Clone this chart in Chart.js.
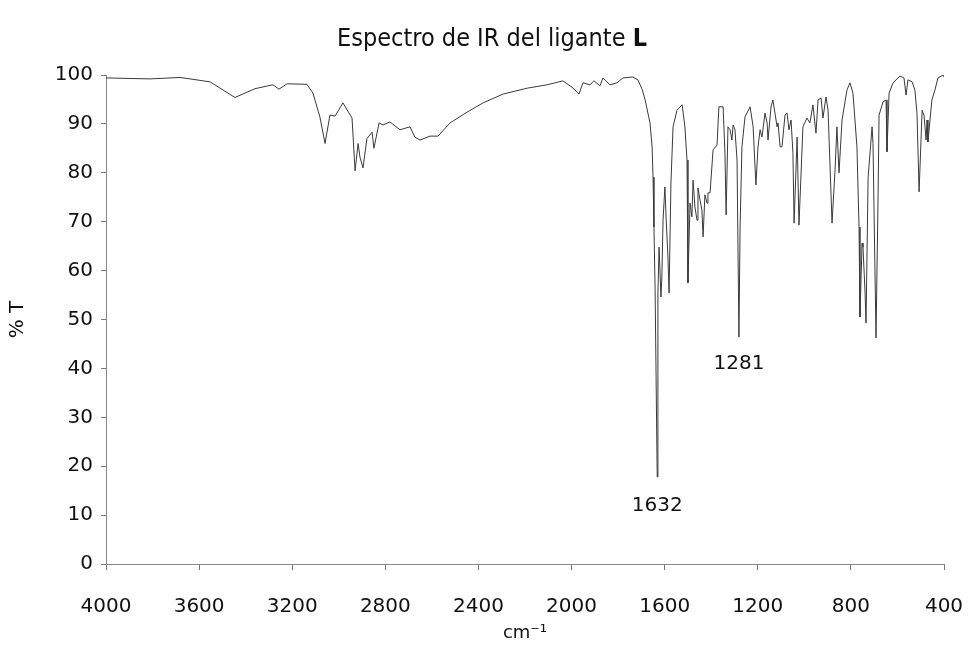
<!DOCTYPE html>
<html>
<head>
<meta charset="utf-8">
<title>Espectro de IR del ligante L</title>
<script src="https://cdn.jsdelivr.net/npm/chart.js@4.4.0/dist/chart.umd.min.js"></script>
<style>
    html, body { margin: 0; padding: 0; background: #fff; }
    #wrap { width: 969px; height: 649px; }
</style>
</head>
<body>
<div id="wrap"><canvas id="irChart" width="969" height="649"></canvas></div>
<script>
// Spectrum (wavenumber in cm-1, transmittance in %)
const wavenumbers = [
    4000, 3811, 3682, 3553, 3446, 3360, 3283, 3257, 3222, 3137, 3111, 3081, 3059, 3038, 3016,
    2982, 2943, 2930, 2917, 2909, 2896, 2879, 2857, 2849, 2827, 2810, 2780, 2737, 2694, 2673,
    2651, 2608, 2574, 2522, 2449, 2380, 2294, 2191, 2105, 2037, 1998, 1968, 1951, 1921, 1904,
    1878, 1865, 1835, 1805, 1779, 1736, 1715, 1697, 1684, 1663, 1654, 1650, 1646, 1641, 1632,
    1629, 1624, 1616, 1612, 1607, 1599, 1594, 1586, 1581, 1573, 1564, 1547, 1525, 1513, 1504,
    1500, 1491, 1483, 1478, 1470, 1461, 1457, 1448, 1440, 1435, 1427, 1418, 1414, 1405, 1392,
    1375, 1367, 1349, 1341, 1336, 1328, 1319, 1311, 1306, 1298, 1289, 1281, 1276, 1268, 1255,
    1233, 1220, 1208, 1199, 1190, 1182, 1169, 1160, 1156, 1143, 1135, 1117, 1113, 1104, 1096,
    1083, 1074, 1066, 1057, 1049, 1044, 1031, 1023, 1006, 989, 976, 963, 950, 941, 928,
    920, 907, 898, 881, 868, 860, 851, 838, 817, 804, 791, 774, 765, 761, 752,
    748, 739, 735, 726, 709, 705, 692, 683, 679, 662, 649, 645, 636, 619, 589,
    572, 563, 555, 537, 525, 516, 507, 494, 486, 477, 473, 469, 452, 439, 426,
    404, 400
];
const transmittance = [
    99.4, 99.2, 99.5, 98.6, 95.4, 97.2, 98.0, 97.1, 98.2, 98.1, 96.3, 91.4, 86.0, 91.8, 91.6,
    94.3, 91.2, 80.4, 86.0, 83.2, 81.0, 87.0, 88.3, 85.0, 90.2, 89.8, 90.4, 88.8, 89.4, 87.3,
    86.7, 87.5, 87.5, 90.2, 92.4, 94.3, 96.1, 97.3, 98.0, 98.8, 97.5, 96.1, 98.4, 98.0, 98.8,
    97.8, 99.4, 98.0, 98.4, 99.4, 99.6, 99.0, 97.1, 94.9, 90.2, 85.3, 79.1, 68.9, 56.0, 17.8,
    55.4, 64.8, 54.6, 58.7, 70.3, 77.1, 71.0, 62.8, 55.4, 77.9, 89.4, 92.8, 93.9, 89.4, 82.6,
    57.5, 73.8, 71.0, 78.5, 73.0, 70.3, 76.9, 74.4, 72.4, 66.9, 75.5, 73.8, 75.9, 75.9, 84.7,
    85.7, 93.5, 93.5, 84.0, 71.4, 89.4, 88.8, 86.7, 89.8, 88.8, 82.6, 46.4, 68.9, 85.3, 91.4,
    93.5, 89.4, 77.5, 85.3, 88.8, 87.3, 92.2, 90.2, 86.7, 93.5, 94.9, 89.4, 90.2, 85.3, 85.3,
    91.8, 92.2, 88.8, 90.8, 84.0, 69.7, 87.3, 69.3, 89.4, 91.2, 90.2, 93.9, 88.1, 94.9, 95.3,
    91.2, 95.5, 92.8, 69.7, 80.6, 89.4, 80.0, 90.8, 96.9, 98.4, 96.3, 85.3, 68.9, 50.5, 65.6,
    64.8, 55.4, 49.3, 79.1, 89.4, 86.0, 46.2, 75.9, 91.8, 94.5, 94.9, 84.3, 96.3, 98.4, 99.8,
    99.4, 95.9, 99.0, 98.6, 96.9, 92.2, 76.1, 92.8, 91.8, 86.7, 90.8, 86.3, 94.9, 96.9, 99.4,
    100.0, 99.6
];
const xTicks = [4000, 3600, 3200, 2800, 2400, 2000, 1600, 1200, 800, 400];
const yTicks = [0, 10, 20, 30, 40, 50, 60, 70, 80, 90, 100];
const peakLabels = ['1632', '1281'];
const peakPositions = [1632, 1281];
const peakLabelLevels = [12, 41];

const points = wavenumbers.map((w, i) => ({ x: w, y: transmittance[i] }));

// Title with bold "L" and the peak labels, drawn on the canvas
const textPlugin = {
    id: 'irText',
    afterDraw(chart) {
        const ctx = chart.ctx;
        const xs = chart.scales.x;
        const ys = chart.scales.y;
        ctx.save();
        ctx.fillStyle = '#111';
        ctx.textBaseline = 'middle';

        const part1 = 'Espectro de IR del ligante ';
        const part2 = 'L';
        const normalFont = '25px "DejaVu Sans Condensed", "DejaVu Sans", sans-serif';
        const boldFont = 'bold 25px "DejaVu Sans Condensed", "DejaVu Sans", sans-serif';
        ctx.font = normalFont;
        const w1 = ctx.measureText(part1).width;
        ctx.font = boldFont;
        const w2 = ctx.measureText(part2).width;
        let x0 = 492 - (w1 + w2) / 2;
        ctx.textAlign = 'left';
        ctx.font = normalFont;
        ctx.fillText(part1, x0, 39);
        ctx.font = boldFont;
        ctx.fillText(part2, x0 + w1, 39);

        ctx.font = '20px "DejaVu Sans", sans-serif';
        ctx.textAlign = 'center';
        peakLabels.forEach((label, i) => {
            const px = xs.getPixelForValue(peakPositions[i]);
            const py = ys.getPixelForValue(peakLabelLevels[i]);
            ctx.fillText(label, px, py);
        });
        ctx.restore();
    }
};

const ctx = document.getElementById('irChart').getContext('2d');
const irChart = new Chart(ctx, {
    type: 'line',
    data: {
        datasets: [{
            data: points,
            borderColor: '#3a3a3a',
            borderWidth: 1,
            pointRadius: 0,
            tension: 0,
            fill: false
        }]
    },
    options: {
        responsive: false,
        animation: false,
        layout: {
            padding: { left: 0, right: 25, top: 75, bottom: 0 }
        },
        plugins: {
            legend: { display: false },
            title: { display: false },
            tooltip: { enabled: false }
        },
        scales: {
            x: {
                type: 'linear',
                reverse: true,
                min: 400,
                max: 4000,
                afterBuildTicks: (scale) => {
                    scale.ticks = xTicks.map(v => ({ value: v }));
                },
                afterFit: (scale) => {
                    scale.height = 85;
                    scale.paddingLeft = 0;
                    scale.paddingRight = 0;
                },
                ticks: {
                    color: '#111',
                    padding: 25,
                    maxRotation: 0,
                    callback: (value) => String(value),
                    font: { family: '"DejaVu Sans", sans-serif', size: 20 }
                },
                grid: {
                    drawOnChartArea: false,
                    color: '#777',
                    tickLength: 6
                },
                border: { color: '#888', width: 1, dash: [2, 1] },
                title: {
                    display: true,
                    text: 'cm\u207B\u00B9',
                    color: '#111',
                    padding: { top: 0, bottom: 5 },
                    font: { family: '"DejaVu Sans", sans-serif', size: 18 }
                }
            },
            y: {
                min: 0,
                max: 100,
                afterBuildTicks: (scale) => {
                    scale.ticks = yTicks.map(v => ({ value: v }));
                },
                afterFit: (scale) => {
                    scale.width = 106;
                    scale.paddingTop = 0;
                    scale.paddingBottom = 0;
                },
                ticks: {
                    color: '#111',
                    padding: 8,
                    callback: (value) => String(value),
                    font: { family: '"DejaVu Sans", sans-serif', size: 20 }
                },
                grid: {
                    drawOnChartArea: false,
                    color: '#777',
                    tickLength: 5
                },
                border: { color: '#888', width: 1, dash: [2, 1] },
                title: {
                    display: true,
                    text: '% T',
                    color: '#111',
                    padding: { top: 6, bottom: 0 },
                    font: { family: '"DejaVu Sans", sans-serif', size: 20 }
                }
            }
        }
    },
    plugins: [textPlugin]
});
</script>
</body>
</html>
